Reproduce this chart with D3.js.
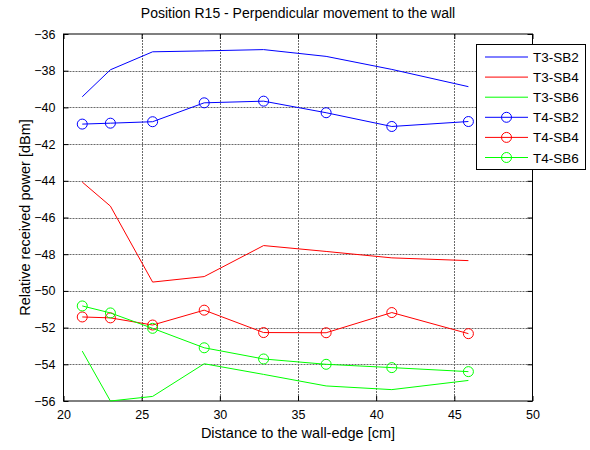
<!DOCTYPE html>
<html><head><meta charset="utf-8">
<script src="https://cdn.jsdelivr.net/npm/d3@7"></script>
<style>body{margin:0;background:#fff}text{font-family:"Liberation Sans",Arial,sans-serif}</style>
</head><body>
<svg id="c" width="590" height="450"></svg>
<script>
const distances = [21.2, 23.0, 25.7, 29.0, 32.8, 36.8, 41.0, 45.9];
const t3sb2 = [-39.42, -37.95, -36.97, -36.92, -36.85, -37.22, -37.93, -38.87];
const t3sb4 = [-44.07, -45.38, -49.52, -49.22, -47.53, -47.85, -48.2, -48.35];
const t3sb6 = [-53.28, -56.0, -55.75, -53.97, -54.55, -55.18, -55.38, -54.88];
const t4sb2 = [-40.91, -40.86, -40.78, -39.75, -39.66, -40.29, -41.04, -40.77];
const t4sb4 = [-51.42, -51.47, -51.86, -51.05, -52.27, -52.28, -51.18, -52.33];
const t4sb6 = [-50.82, -51.2, -52.04, -53.1, -53.71, -54.0, -54.18, -54.4];
const seriesNames = ["T3-SB2","T3-SB4","T3-SB6","T4-SB2","T4-SB4","T4-SB6"];
const xTicks = [20,25,30,35,40,45,50];
const yTicks = [-56,-54,-52,-50,-48,-46,-44,-42,-40,-38,-36];
const titleText = "Position R15 - Perpendicular movement to the wall";
const xLabel = "Distance to the wall-edge [cm]";
const yLabel = "Relative received power [dBm]";

const series = [
  {name: seriesNames[0], values: t3sb2, color: "#0000ff", marker: false},
  {name: seriesNames[1], values: t3sb4, color: "#ff0000", marker: false},
  {name: seriesNames[2], values: t3sb6, color: "#00ff00", marker: false},
  {name: seriesNames[3], values: t4sb2, color: "#0000ff", marker: true},
  {name: seriesNames[4], values: t4sb4, color: "#ff0000", marker: true},
  {name: seriesNames[5], values: t4sb6, color: "#00ff00", marker: true}
];

const L = 63.5, R = 532.5, T = 34, B = 401;
const svg = d3.select("#c");
const x = d3.scaleLinear().domain([20,50]).range([L,R]);
const y = d3.scaleLinear().domain([-56,-36]).range([B,T]);

// grid
const g = svg.append("g");
g.selectAll(".gx").data(xTicks.slice(1,-1)).join("line")
  .attr("x1",d=>Math.round(x(d))+0.5).attr("x2",d=>Math.round(x(d))+0.5).attr("y1",T).attr("y2",B)
  .attr("stroke","#6a6a6a").attr("stroke-dasharray","2,1").attr("stroke-width",1);
g.selectAll(".gy").data(yTicks.slice(1,-1)).join("line")
  .attr("y1",d=>Math.round(y(d))+0.5).attr("y2",d=>Math.round(y(d))+0.5).attr("x1",L).attr("x2",R)
  .attr("stroke","#6a6a6a").attr("stroke-dasharray","2,1").attr("stroke-width",1);

// axes
const axB = d3.axisBottom(x).tickValues(xTicks).tickSize(-5).tickPadding(9);
const axT = d3.axisTop(x).tickValues(xTicks).tickSize(-5).tickFormat("");
const axL = d3.axisLeft(y).tickValues(yTicks).tickSize(-5).tickPadding(8);
const axR = d3.axisRight(y).tickValues(yTicks).tickSize(-5).tickFormat("");
function style(sel){sel.selectAll("path").remove();sel.selectAll("line").attr("stroke","#000");sel.selectAll("text").attr("font-size",12.5).attr("font-family","Liberation Sans, Arial, sans-serif").attr("fill","#000");}
svg.append("g").attr("transform",`translate(0,${B})`).call(axB).call(style);
svg.append("g").attr("transform",`translate(0,${T})`).call(axT).call(style);
svg.append("g").attr("transform",`translate(${L},0)`).call(axL).call(style);
svg.append("g").attr("transform",`translate(${R},0)`).call(axR).call(style);
svg.append("rect").attr("x",L).attr("y",T).attr("width",R-L).attr("height",B-T)
  .attr("fill","none").attr("stroke","#000").attr("stroke-width",1);

// series
const line = d3.line().x((d,i)=>x(distances[i])).y(d=>y(d));
series.forEach(s=>{
  svg.append("path").datum(s.values).attr("d",line).attr("fill","none")
    .attr("stroke",s.color).attr("stroke-width",1);
  if(s.marker){
    svg.selectAll(null).data(s.values).join("circle")
      .attr("cx",(d,i)=>x(distances[i])).attr("cy",d=>y(d)).attr("r",5)
      .attr("fill","none").attr("stroke",s.color).attr("stroke-width",1);
  }
});

// legend
const lg = svg.append("g");
lg.append("rect").attr("x",476.5).attr("y",44.5).attr("width",109).attr("height",125)
  .attr("fill","#fff").attr("stroke","#000").attr("stroke-width",1);
series.forEach((s,i)=>{
  const yy = 57 + i*20.1;
  lg.append("line").attr("x1",485).attr("x2",528).attr("y1",yy).attr("y2",yy)
    .attr("stroke",s.color).attr("stroke-width",1);
  if(s.marker) lg.append("circle").attr("cx",506.5).attr("cy",yy).attr("r",5)
    .attr("fill","none").attr("stroke",s.color);
  lg.append("text").attr("x",533).attr("y",yy+5).attr("font-size",13.5).text(s.name);
});

// labels
svg.append("text").attr("x",(L+R)/2).attr("y",18).attr("text-anchor","middle")
  .attr("font-size",14).text(titleText);
svg.append("text").attr("x",(L+R)/2).attr("y",438).attr("text-anchor","middle")
  .attr("font-size",14.5).text(xLabel);
svg.append("text").attr("transform",`translate(30,${(T+B)/2}) rotate(-90)`)
  .attr("text-anchor","middle").attr("font-size",14.5).text(yLabel);
</script>
</body></html>
